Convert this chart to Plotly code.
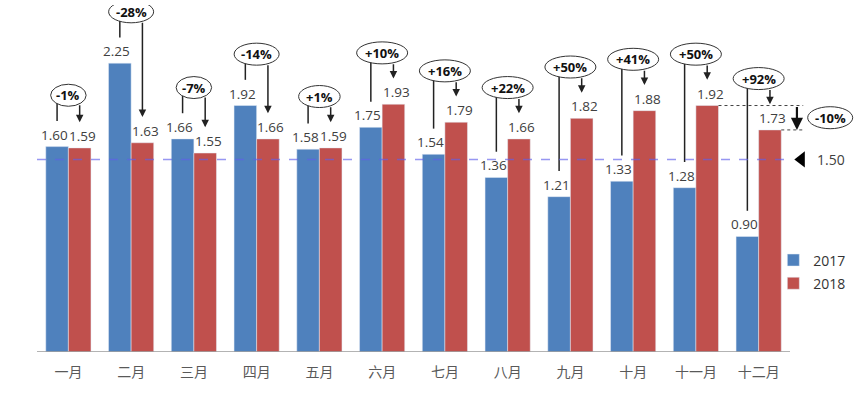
import math
import plotly.graph_objects as go

# ---------------- data ----------------
months = ["一月", "二月", "三月", "四月", "五月", "六月",
          "七月", "八月", "九月", "十月", "十一月", "十二月"]
v2017 = [1.60, 2.25, 1.66, 1.92, 1.58, 1.75, 1.54, 1.36, 1.21, 1.33, 1.28, 0.90]
v2018 = [1.59, 1.63, 1.55, 1.66, 1.59, 1.93, 1.79, 1.66, 1.82, 1.88, 1.92, 1.73]
pct_labels = ["-1%", "-28%", "-7%", "-14%", "+1%", "+10%",
              "+16%", "+22%", "+50%", "+41%", "+50%", "+92%"]
target_value = 1.50
target_label = "1.50"
dec_vs_nov_label = "-10%"
series_names = ["2017", "2018"]

# ---------------- style ----------------
BLUE = "#4F81BD"
RED = "#C0504D"
INK = "#222222"
TXT = "#404040"
FONT = "Open Sans"
BARGAP = 0.28
OFF = (1 - BARGAP) / 4          # bar centre offset from category centre
PX_PER_CAT = 62.75
PX_PER_UNIT = 128.4
ELL_H = 11                      # ellipse half height in px

x = list(range(len(months)))

fig = go.Figure()
for vals, name, col in ((v2017, series_names[0], BLUE), (v2018, series_names[1], RED)):
    fig.add_trace(go.Bar(x=x, y=vals, name=name, marker_color=col, legendgroup=name,
                         hovertemplate="%{y:.2f}<extra>" + name + "</extra>"))

shapes = []
annotations = []

# value labels above bars
for i in x:
    for val, sign in ((v2017[i], -1), (v2018[i], 1)):
        annotations.append(dict(x=i + sign * OFF, y=val, xref="x", yref="y",
                                text="%.2f" % val, showarrow=False,
                                yanchor="bottom", yshift=1, xshift=3 * sign,
                                font=dict(size=13.5, color=TXT, family=FONT)))


def ell_halfwidth(label):
    return (7 + 9.5 * len(label) + (6 if label.startswith("+") else 0)) / 2


def ellipse(xc, yc, label):
    hw = ell_halfwidth(label)
    shapes.append(dict(type="circle", xref="x", yref="y", xsizemode="pixel", ysizemode="pixel",
                       xanchor=xc, yanchor=yc, x0=-hw, x1=hw, y0=-ELL_H, y1=ELL_H,
                       line=dict(color="#333333", width=1), fillcolor="white", layer="above"))
    annotations.append(dict(x=xc, y=yc, xref="x", yref="y", text="<b>%s</b>" % label,
                            showarrow=False, font=dict(size=13, color="#111111", family=FONT)))


for i in x:
    a, b, lab = v2017[i], v2018[i], pct_labels[i]
    top = max(a, b) + 0.40
    hw = ell_halfwidth(lab)
    dx = OFF * PX_PER_CAT
    edge_px = ELL_H * math.sqrt(max(0.0, 1 - (dx / hw) ** 2))
    edge = edge_px / PX_PER_UNIT
    # left bracket line from above 2017 label up to ellipse
    shapes.append(dict(type="line", xref="x", yref="y", x0=i - OFF, x1=i - OFF,
                       y0=a + 0.20, y1=top - edge + 0.01,
                       line=dict(color=INK, width=1.5), layer="above"))
    # arrow from ellipse down to 2018 label
    annotations.append(dict(x=i + OFF, y=b + 0.20, ax=i + OFF, ay=top - edge,
                            xref="x", yref="y", axref="x", ayref="y", text="",
                            showarrow=True, arrowhead=2, arrowsize=1, arrowwidth=1.5,
                            arrowcolor=INK, standoff=0))
    ellipse(i, top, lab)

# target dashed line
shapes.append(dict(type="line", xref="x", yref="y", x0=-0.5, x1=11.47,
                   y0=target_value, y1=target_value,
                   line=dict(color="rgba(95,95,235,0.65)", width=1.5, dash="dash"),
                   layer="above"))

# baseline
shapes.append(dict(type="line", xref="x", yref="y", x0=-0.5, x1=11.5, y0=0, y1=0,
                   line=dict(color="#9a9a9a", width=1.5), layer="above"))

# Dec vs Nov bracket
nov, dec = v2018[10], v2018[11]
xr = 11.71
shapes.append(dict(type="line", xref="x", yref="y", x0=10 + 2 * OFF, x1=xr, y0=nov, y1=nov,
                   line=dict(color="#444444", width=1, dash="dot"), layer="above"))
shapes.append(dict(type="line", xref="x", yref="y", x0=11 + 2 * OFF, x1=xr, y0=dec, y1=dec,
                   line=dict(color="#444444", width=1, dash="dot"), layer="above"))
annotations.append(dict(x=11.61, y=dec, ax=11.61, ay=nov, xref="x", yref="y",
                        axref="x", ayref="y", text="", showarrow=True, arrowhead=2,
                        arrowsize=1.1, arrowwidth=2.2, arrowcolor="#111111", standoff=0))
ellipse(12.14, (nov + dec) / 2, dec_vs_nov_label)

# target marker + label
fig.add_trace(go.Scatter(x=[11.68], y=[target_value], mode="markers",
                         marker=dict(symbol="triangle-left", size=14, color="black"),
                         showlegend=False, hoverinfo="skip", cliponaxis=False))
annotations.append(dict(x=12.15, y=target_value, xref="x", yref="y", text=target_label,
                        showarrow=False, font=dict(size=14, color=TXT, family=FONT)))

fig.update_layout(
    width=866, height=393,
    margin=dict(l=37, r=6, t=5, b=41, autoexpand=False),
    paper_bgcolor="white", plot_bgcolor="white",
    barmode="group", bargap=BARGAP, bargroupgap=0,
    font=dict(family=FONT, size=14, color=TXT),
    shapes=shapes, annotations=annotations,
    showlegend=True,
    legend=dict(x=0.893, y=0.378, xref="container", yref="container",
                xanchor="left", yanchor="top", traceorder="grouped",
                font=dict(size=14, color="#333333", family=FONT),
                bgcolor="rgba(0,0,0,0)", tracegroupgap=2, itemwidth=30),
    xaxis=dict(range=[-0.5, 12.615], tickvals=x, ticktext=months,
               showgrid=False, zeroline=False, showline=False, ticks="",
               tickfont=dict(family="Noto Sans CJK SC", size=14, color="#595959"),
               ticklabelstandoff=10, fixedrange=True, automargin=False),
    yaxis=dict(range=[0, 2.703], visible=False, showgrid=False, zeroline=False,
               fixedrange=True, automargin=False),
)

fig.write_html("out.html", config={"displayModeBar": False},
               post_script="document.body.style.margin='0';")
